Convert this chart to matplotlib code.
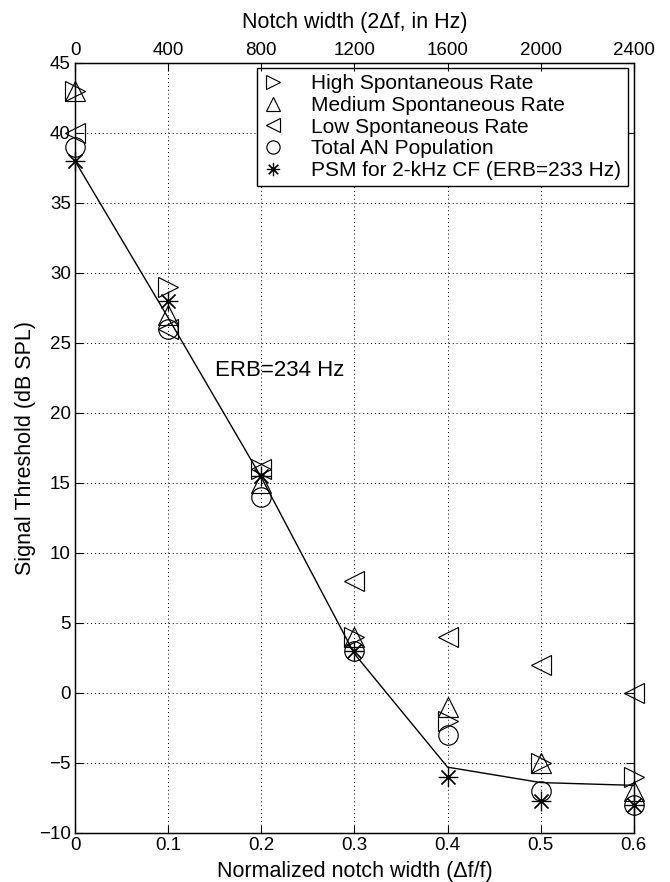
import matplotlib
matplotlib.use("Agg")
import matplotlib.pyplot as plt
import numpy as np

plt.rcParams['font.family'] = ['Liberation Sans', 'DejaVu Sans']

# Data
notch = [0.0, 0.1, 0.2, 0.3, 0.4, 0.5, 0.6]
high_sr = [43, 29, 16, 4, -2, -5, -6]
medium_sr = [43, 27, 15, 4, -1, -5, -7]
low_sr = [40, 26, 16, 8, 4, 2, 0]
total_an = [39, 26, 14, 3, -3, -7, -8]
psm = [38, 28, 15.5, 3, -6, -7.7, -8]
fit_line = [38, 26.8, 15.4, 2.8, -5.3, -6.4, -6.6]

xticks = [0, 0.1, 0.2, 0.3, 0.4, 0.5, 0.6]
yticks = [-10, -5, 0, 5, 10, 15, 20, 25, 30, 35, 40, 45]
top_ticks_hz = [0, 400, 800, 1200, 1600, 2000, 2400]
labels = ['High Spontaneous Rate', 'Medium Spontaneous Rate',
          'Low Spontaneous Rate', 'Total AN Population',
          'PSM for 2-kHz CF (ERB=233 Hz)']

fig = plt.figure(figsize=(6.7, 8.82), dpi=100)
ax = fig.add_axes([0.112, 0.0556, 0.834, 0.873])

ms = 14
mew = 0.85
common = dict(linestyle='none', color='black', markerfacecolor='none',
              markeredgecolor='black', markersize=ms, markeredgewidth=mew,
              clip_on=False, zorder=3)
ax.plot(notch, fit_line, '-', color='black', linewidth=1.0, zorder=2, clip_on=False)
h1, = ax.plot(notch, high_sr, marker='>', label=labels[0], **common)
h2, = ax.plot(notch, medium_sr, marker='^', label=labels[1], **common)
h3, = ax.plot(notch, low_sr, marker='<', label=labels[2], **common)
h4, = ax.plot(notch, total_an, marker='o', label=labels[3], **common)
h5, = ax.plot(notch, psm, marker=(8, 2, 0), label=labels[4], **common)

ax.set_xlim(0, 0.6)
ax.set_ylim(-10, 45)
ax.set_xticks(xticks)
ax.set_xticklabels(['0', '0.1', '0.2', '0.3', '0.4', '0.5', '0.6'])
ax.set_yticks(yticks)
ax.tick_params(direction='in', length=6, width=0.8, labelsize=13.5,
               right=True, top=False, pad=3, colors='black')
ax.grid(True, linestyle=(0, (1, 3)), color='black', linewidth=0.7)
for s in ax.spines.values():
    s.set_linewidth(1.0)
    s.set_color('black')

ax.set_xlabel('Normalized notch width (\u0394f/f)', fontsize=15.5, labelpad=5)
ax.set_ylabel('Signal Threshold (dB SPL)', fontsize=15.5, labelpad=2)

# Top axis in Hz
ax2 = ax.twiny()
ax2.set_xlim(0, 2400)
ax2.set_xticks(top_ticks_hz)
ax2.tick_params(direction='in', length=6, width=0.8, labelsize=13.5, pad=3)
ax2.set_xlabel('Notch width (2\u0394f, in Hz)', fontsize=15.5, labelpad=10)

ax.text(0.15, 23, 'ERB=234 Hz', fontsize=16, ha='left', va='center')

leg = ax.legend(handles=[h1, h2, h3, h4, h5], loc='upper right',
                bbox_to_anchor=(0.989, 0.9935), borderaxespad=0,
                fancybox=False, edgecolor='black', framealpha=1,
                fontsize=15, markerscale=0.68, handlelength=0.9,
                handletextpad=1.4, labelspacing=0.13, borderpad=0.3)
leg.get_frame().set_linewidth(1.0)
leg.set_zorder(5)

fig.savefig('out.png', dpi=100)
